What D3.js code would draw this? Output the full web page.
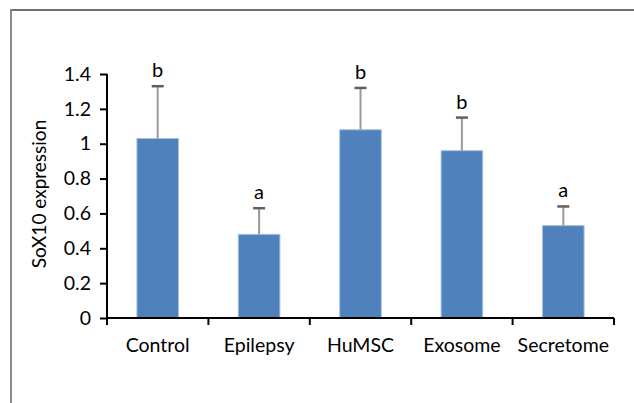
<!DOCTYPE html>
<html>
<head>
<meta charset="utf-8">
<script src="https://cdn.jsdelivr.net/npm/d3@7/dist/d3.min.js"></script>
<style>
  html, body { margin: 0; padding: 0; background: #fff; }
  svg { display: block; }
  text { font-family: Lato, "Open Sans", sans-serif; fill: #000; }
</style>
</head>
<body>
<script>
const categories = ["Control", "Epilepsy", "HuMSC", "Exosome", "Secretome"];
const means = [1.03, 0.48, 1.08, 0.96, 0.53];
const errorTops = [1.33, 0.63, 1.32, 1.15, 0.64];
const letters = ["b", "a", "b", "b", "a"];
const yTicks = [0, 0.2, 0.4, 0.6, 0.8, 1, 1.2, 1.4];
const yTitle = "SoX10 expression";

const W = 634, H = 403;
const svg = d3.select("body").append("svg").attr("width", W).attr("height", H);

// outer frame (top + left visible)
svg.append("line").attr("x1", 10).attr("x2", W).attr("y1", 10).attr("y2", 10)
  .attr("stroke", "#6f6f6f").attr("stroke-width", 2);
svg.append("line").attr("x1", 11).attr("x2", 11).attr("y1", 9).attr("y2", H)
  .attr("stroke", "#8a8a8a").attr("stroke-width", 2);

const x0 = 107, x1 = 614, yBase = 318, yTop = 74;
const x = d3.scaleBand().domain(categories).range([x0, x1]).paddingInner(0.59).paddingOuter(0.295);
const y = d3.scaleLinear().domain([0, 1.4]).range([yBase, yTop]);

// bars
const g = svg.append("g");
g.selectAll("rect.bar").data(categories).join("rect")
  .attr("class", "bar")
  .attr("x", d => x(d))
  .attr("width", x.bandwidth())
  .attr("y", (d, i) => y(means[i]))
  .attr("height", (d, i) => y(0) - y(means[i]))
  .attr("fill", "#4f81bd")
  .attr("stroke", "#a7c0de").attr("stroke-width", 1);

// error bars
const cx = d => x(d) + x.bandwidth() / 2;
g.selectAll("line.stem").data(categories).join("line")
  .attr("x1", cx).attr("x2", cx)
  .attr("y1", (d, i) => y(means[i]))
  .attr("y2", (d, i) => y(errorTops[i]))
  .attr("stroke", "#9a9a9a").attr("stroke-width", 2);
g.selectAll("line.cap").data(categories).join("line")
  .attr("x1", d => cx(d) - 6).attr("x2", d => cx(d) + 6)
  .attr("y1", (d, i) => y(errorTops[i]))
  .attr("y2", (d, i) => y(errorTops[i]))
  .attr("stroke", "#5f5f5f").attr("stroke-width", 2.5);

// significance letters
g.selectAll("text.letter").data(categories).join("text")
  .attr("x", cx)
  .attr("y", (d, i) => y(errorTops[i]) - 9)
  .attr("text-anchor", "middle")
  .attr("font-size", 20)
  .text((d, i) => letters[i]);

// y axis
const yAxis = svg.append("g").attr("transform", `translate(${x0},0)`)
  .call(d3.axisLeft(y).tickValues(yTicks).tickSize(7).tickPadding(9).tickFormat(d3.format("~g")));
yAxis.select(".domain").attr("stroke", "#000").attr("stroke-width", 2).attr("d", `M0,${yTop}V${yBase}`);
yAxis.selectAll(".tick line").attr("stroke", "#000").attr("stroke-width", 2);
yAxis.selectAll(".tick text").attr("font-size", 19.5).attr("font-family", "Lato, sans-serif").attr("fill", "#000");

// x axis with ticks at band boundaries
const xAxis = svg.append("g").attr("transform", `translate(0,${yBase})`)
  .call(d3.axisBottom(x).tickSize(0).tickPadding(20));
xAxis.select(".domain").attr("stroke", "#000").attr("stroke-width", 2).attr("d", `M${x0},0H${x1}`);
xAxis.selectAll(".tick text").attr("font-size", 19.5).attr("font-family", "Lato, sans-serif").attr("fill", "#000");
const bounds = d3.range(categories.length + 1).map(i => x0 + i * (x1 - x0) / categories.length);
xAxis.selectAll("line.bt").data(bounds).join("line")
  .attr("x1", d => d).attr("x2", d => d).attr("y1", 0).attr("y2", 7)
  .attr("stroke", "#000").attr("stroke-width", 2);

// y title
svg.append("text")
  .attr("transform", `translate(46,${(yTop + yBase) / 2 - 2}) rotate(-90)`)
  .attr("text-anchor", "middle")
  .attr("font-size", 19)
  .text(yTitle);
</script>
</body>
</html>
